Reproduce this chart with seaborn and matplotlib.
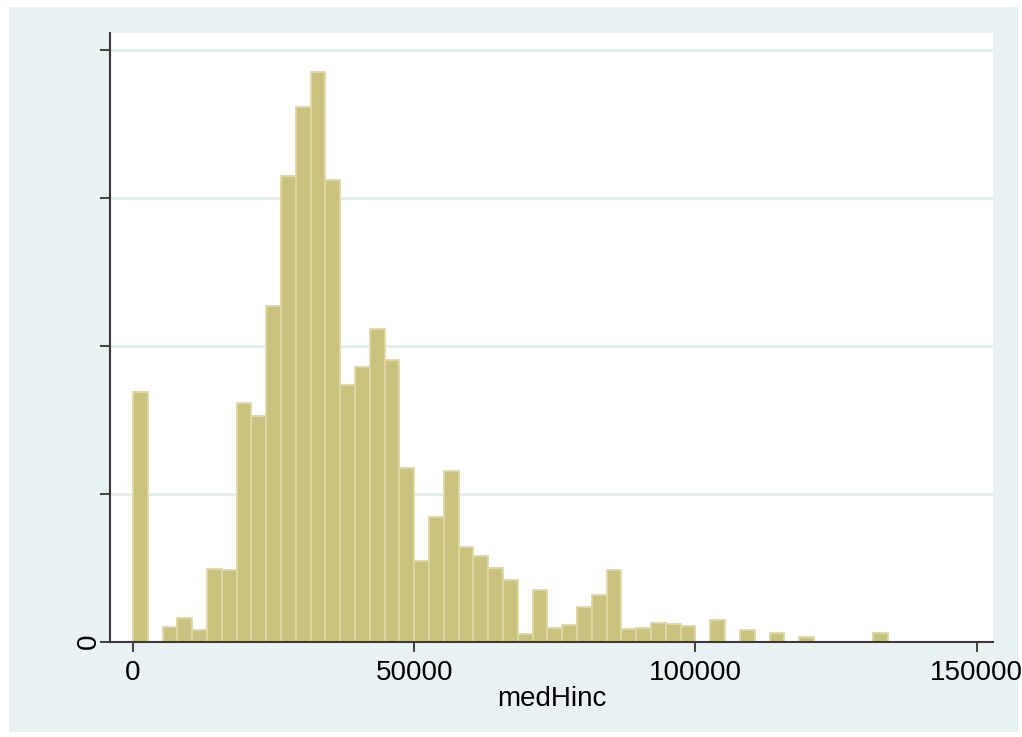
import numpy as np
import pandas as pd
import matplotlib
matplotlib.use("Agg")
import matplotlib.pyplot as plt
import seaborn as sns

# ---- data ----
bin_start = 0.0
bin_width = 2632.0
# density per bin, in units of 1e-5
density_e5 = [0.844, 0.0, 0.048, 0.080, 0.039, 0.245, 0.243, 0.807, 0.763, 1.133,
              1.573, 1.805, 1.923, 1.560, 0.866, 0.926, 1.057, 0.951, 0.587, 0.272,
              0.420, 0.576, 0.319, 0.290, 0.249, 0.208, 0.025, 0.173, 0.047, 0.055,
              0.116, 0.156, 0.241, 0.042, 0.045, 0.064, 0.058, 0.053, 0.0, 0.072,
              0.0, 0.040, 0.0, 0.030, 0.0, 0.015, 0.0, 0.0, 0.0, 0.0,
              0.030]
x_ticks = [0, 50000, 100000, 150000]
x_ticklabels = ["0", "50000", "100000", "150000"]
y_ticks_e5 = [0, 0.5, 1.0, 1.5, 2.0]
y_ticklabels = ["0", "", "", "", ""]
x_label = "medHinc"

n = len(density_e5)
edges = bin_start + bin_width * np.arange(n + 1)
centers = (edges[:-1] + edges[1:]) / 2
df = pd.DataFrame({"medHinc": centers, "density": np.array(density_e5) * 1e-5})

sns.set_style("white")
plt.rcParams["font.family"] = ["Liberation Sans", "DejaVu Sans"]

fig = plt.figure(figsize=(10.22, 7.37), dpi=100)
fig.patch.set_facecolor("white")
bg = "#E9F1F3"
rect = plt.Rectangle((9 / 1022, 1 - 732 / 737), (1019 - 9) / 1022, (732 - 7) / 737,
                     transform=fig.transFigure, facecolor=bg, edgecolor="none", zorder=-10)
fig.add_artist(rect)

ax = fig.add_axes([110 / 1022, 1 - 641.5 / 737, (993 - 110) / 1022, (641.5 - 33) / 737])
ax.set_facecolor("white")

sns.histplot(data=df, x="medHinc", weights="density", binwidth=bin_width,
             binrange=(edges[0], edges[-1]), stat="count",
             color="#C9C17E", edgecolor="#DDD8A2", linewidth=1.3, alpha=1.0, ax=ax, zorder=2)

ax.set_xlim(-4090, 152915)
ax.set_ylim(0, 2.056e-5)
ax.set_yticks(np.array(y_ticks_e5) * 1e-5)
ax.set_yticklabels(y_ticklabels, rotation=90, va="center")
ax.set_xticks(x_ticks)
ax.set_xticklabels(x_ticklabels)

ax.yaxis.grid(True, color="#E1ECEF", linewidth=1.8, zorder=0)
ax.xaxis.grid(False)
ax.set_axisbelow(True)

for s in ["top", "right"]:
    ax.spines[s].set_visible(False)
for s in ["left", "bottom"]:
    ax.spines[s].set_visible(True)
    ax.spines[s].set_color("#3a3a3a")
    ax.spines[s].set_linewidth(1.5)
    ax.spines[s].set_zorder(3)

ax.tick_params(axis="both", which="major", direction="out", length=7.5, width=1.2,
               color="#222222", labelsize=20, labelcolor="black",
               bottom=True, left=True, top=False, right=False)
ax.tick_params(axis="x", pad=6)
ax.tick_params(axis="y", pad=-2)

ax.set_xlabel(x_label, fontsize=20, labelpad=0, color="black")
ax.set_ylabel("")

fig.savefig("out.png", dpi=100, facecolor=fig.get_facecolor())
